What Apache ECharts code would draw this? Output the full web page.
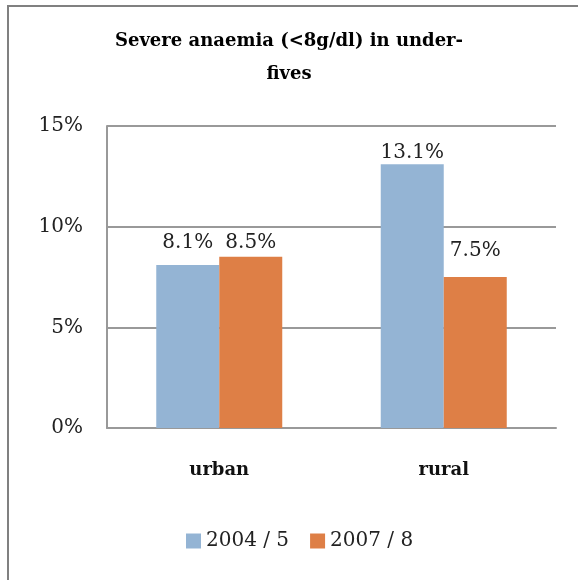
<!DOCTYPE html>
<html>
<head>
<meta charset="utf-8">
<script src="https://cdn.jsdelivr.net/npm/echarts@6/dist/echarts.min.js"></script>
<style>
  html, body { margin: 0; padding: 0; background: #fff; }
  #chart { width: 578px; height: 580px; }
</style>
</head>
<body>
<div id="chart"></div>
<script>
// Severe anaemia in under-fives, by residence and survey round
const categories = ['urban', 'rural'];
const seriesNames = ['2004 / 5', '2007 / 8'];
const round2004 = [8.1, 13.1];
const round2007 = [8.5, 7.5];
const yTicks = [0, 5, 10, 15];

// gap between each value label and the top of its bar, per category
const labelGap2004 = [12, 1];
const labelGap2007 = [4, 16];

const serif = '"DejaVu Serif", "Liberation Serif", serif';
const chart = echarts.init(document.getElementById('chart'));

function barData(values, gaps) {
  return values.map((v, i) => ({ value: v, label: { distance: gaps[i] } }));
}

const labelStyle = {
  show: true,
  position: 'top',
  fontFamily: serif,
  fontSize: 20,
  color: '#222',
  formatter: p => p.value.toFixed(1) + '%'
};

chart.setOption({
  backgroundColor: '#fff',
  animation: false,
  title: {
    text: 'Severe anaemia (<8g/dl) in under-\nfives',
    left: 'center',
    top: 20,
    textStyle: {
      fontFamily: serif,
      fontSize: 18,
      fontWeight: 'bold',
      color: '#000',
      lineHeight: 33
    }
  },
  legend: {
    left: 181,
    top: 526,
    icon: 'rect',
    itemWidth: 15,
    itemHeight: 15,
    itemGap: 21,
    textStyle: { fontFamily: serif, fontSize: 20, color: '#222' },
    data: seriesNames
  },
  grid: { left: 107, right: 22, top: 126, bottom: 152 },
  xAxis: {
    type: 'category',
    data: categories,
    axisLine: { lineStyle: { color: '#999', width: 2 } },
    axisTick: { show: false },
    axisLabel: {
      margin: 33,
      fontFamily: serif,
      fontSize: 18,
      fontWeight: 'bold',
      color: '#111'
    }
  },
  yAxis: {
    type: 'value',
    min: yTicks[0],
    max: yTicks[yTicks.length - 1],
    interval: yTicks[1] - yTicks[0],
    axisLine: { show: true, lineStyle: { color: '#999', width: 2 } },
    axisTick: { show: false },
    splitLine: { lineStyle: { color: '#999', width: 2 } },
    axisLabel: {
      margin: 24,
      fontFamily: serif,
      fontSize: 20,
      color: '#222',
      formatter: v => v + '%'
    }
  },
  series: [
    {
      name: seriesNames[0],
      type: 'bar',
      data: barData(round2004, labelGap2004),
      barWidth: 63,
      barGap: '0%',
      itemStyle: { color: '#94B4D4' },
      label: labelStyle
    },
    {
      name: seriesNames[1],
      type: 'bar',
      data: barData(round2007, labelGap2007),
      barWidth: 63,
      barGap: '0%',
      itemStyle: { color: '#DE7F46' },
      label: labelStyle
    }
  ],
  graphic: [
    { type: 'line', shape: { x1: 8, y1: 6, x2: 578, y2: 6 }, style: { stroke: '#808080', lineWidth: 2 } },
    { type: 'line', shape: { x1: 8, y1: 5, x2: 8, y2: 580 }, style: { stroke: '#808080', lineWidth: 2 } }
  ]
});
</script>
</body>
</html>
